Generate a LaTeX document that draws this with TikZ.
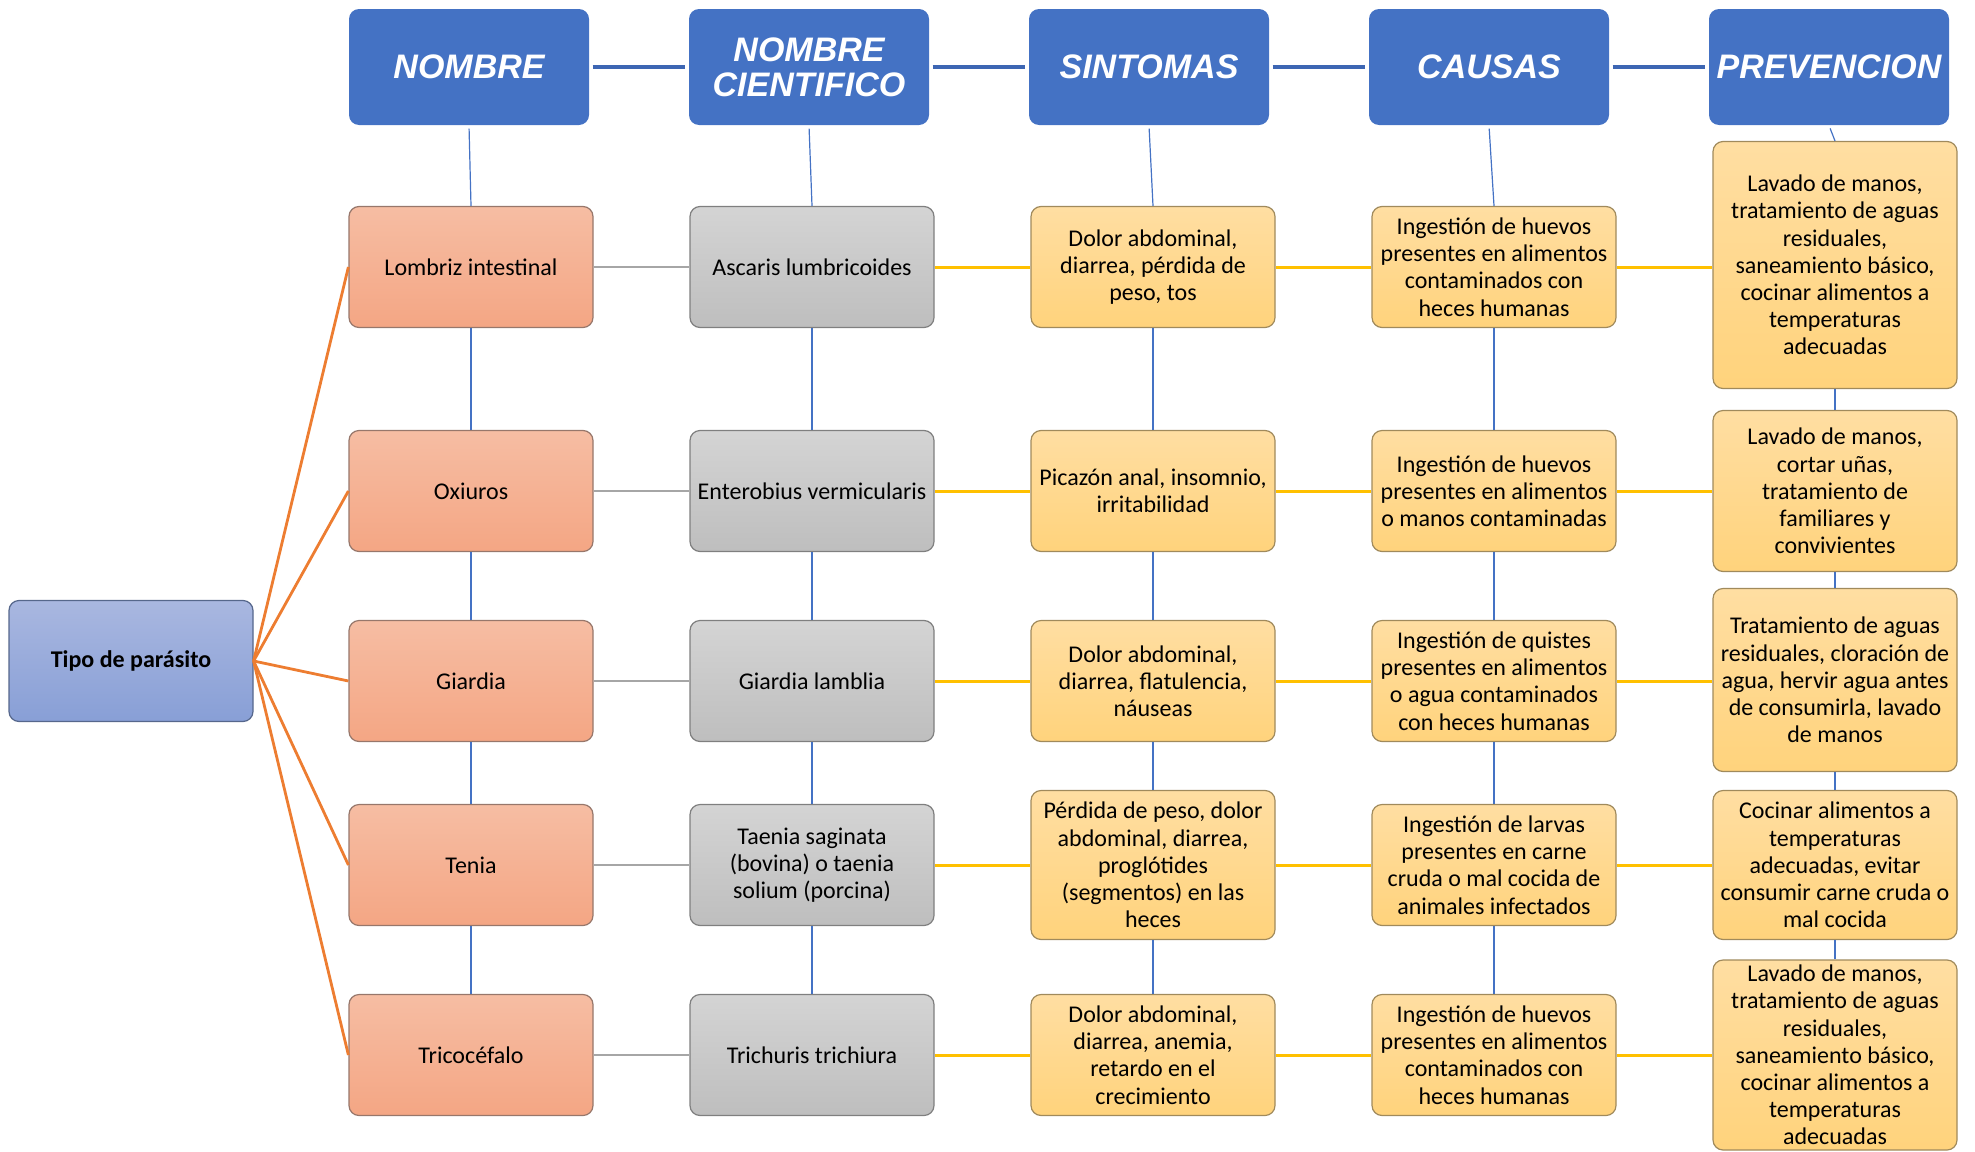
\documentclass[tikz,border=0pt]{standalone}
\usepackage{fontspec}
\setmainfont{Carlito}
\newfontfamily\hdrfont{Liberation Sans}

\definecolor{hdrblue}{HTML}{4472C4}
\definecolor{linkblue}{HTML}{3D66B3}
\definecolor{pinktop}{HTML}{F6BDA3}
\definecolor{pinkbot}{HTML}{F4A684}
\definecolor{pinkline}{HTML}{97776B}
\definecolor{graytop}{HTML}{D4D4D4}
\definecolor{graybot}{HTML}{BEBEBE}
\definecolor{grayline}{HTML}{7F7F7F}
\definecolor{yeltop}{HTML}{FFDEA2}
\definecolor{yelbot}{HTML}{FFD37C}
\definecolor{yelline}{HTML}{A08A5C}
\definecolor{roottop}{HTML}{A9B7E0}
\definecolor{rootbot}{HTML}{889FD6}
\definecolor{rootline}{HTML}{56678C}
\definecolor{linkgray}{HTML}{A6A6A6}
\definecolor{linkgold}{HTML}{FFC000}
\definecolor{linkorange}{HTML}{ED7D31}

\tikzset{
  boxbase/.style={rounded corners=5pt, align=center, inner sep=2pt, line width=0.6pt,
    minimum width=122pt, minimum height=60.5pt, font=\fontsize{12}{13.6}\selectfont},
  hdr/.style={boxbase, fill=hdrblue, minimum width=120pt, minimum height=58pt, text=white,
    font=\hdrfont\bfseries\itshape\fontsize{17}{17.6}\selectfont},
  root/.style={boxbase, draw=rootline, top color=roottop, bottom color=rootbot},
  nombre/.style={boxbase, draw=pinkline, top color=pinktop, bottom color=pinkbot},
  cientifico/.style={boxbase, draw=grayline, top color=graytop, bottom color=graybot},
  info/.style={boxbase, draw=yelline, top color=yeltop, bottom color=yelbot},
  hlink/.style={linkblue, line width=1.6pt, shorten <=1.5pt, shorten >=1.5pt},
  vlink/.style={hdrblue, line width=0.6pt},
  glink/.style={linkgray, line width=1.4pt},
  ylink/.style={linkgold, line width=1.5pt},
  olink/.style={linkorange, line width=1.4pt}
}

\begin{document}
\begin{tikzpicture}[x=0.5pt, y=-0.5pt]
	\useasboundingbox (0,0) rectangle (1975,1151);

	% encabezados
	\node[hdr] (H1) at (469,67) {NOMBRE};
	\node[hdr] (H2) at (809,67) {NOMBRE\\CIENTIFICO};
	\node[hdr] (H3) at (1149,67) {SINTOMAS};
	\node[hdr] (H4) at (1489,67) {CAUSAS};
	\node[hdr] (H5) at (1829,67) {PREVENCION};

	\node[root] (T) at (131,661) {\textbf{Tipo de parásito}};

	% nombre
	\node[nombre] (N1) at (471,267) {Lombriz intestinal};
	\node[nombre] (N2) at (471,491) {Oxiuros};
	\node[nombre] (N3) at (471,681) {Giardia};
	\node[nombre] (N4) at (471,865) {Tenia};
	\node[nombre] (N5) at (471,1055) {Tricocéfalo};

	% nombre cientifico
	\node[cientifico] (C1) at (812,267) {Ascaris lumbricoides};
	\node[cientifico] (C2) at (812,491) {Enterobius vermicularis};
	\node[cientifico] (C3) at (812,681) {Giardia lamblia};
	\node[cientifico] (C4) at (812,865) {Taenia saginata\\(bovina) o taenia\\solium (porcina)};
	\node[cientifico] (C5) at (812,1055) {Trichuris trichiura};

	% sintomas
	\node[info] (S1) at (1153,267) {Dolor abdominal,\\diarrea, pérdida de\\peso, tos};
	\node[info] (S2) at (1153,491) {Picazón anal, insomnio,\\irritabilidad};
	\node[info] (S3) at (1153,681) {Dolor abdominal,\\diarrea, flatulencia,\\náuseas};
	\node[info, minimum height=74.5pt] (S4) at (1153,865) {Pérdida de peso, dolor\\abdominal, diarrea,\\proglótides\\(segmentos) en las\\heces};
	\node[info] (S5) at (1153,1055) {Dolor abdominal,\\diarrea, anemia,\\retardo en el\\crecimiento};

	% causas
	\node[info] (K1) at (1494,267) {Ingestión de huevos\\presentes en alimentos\\contaminados con\\heces humanas};
	\node[info] (K2) at (1494,491) {Ingestión de huevos\\presentes en alimentos\\o manos contaminadas};
	\node[info] (K3) at (1494,681) {Ingestión de quistes\\presentes en alimentos\\o agua contaminados\\con heces humanas};
	\node[info] (K4) at (1494,865) {Ingestión de larvas\\presentes en carne\\cruda o mal cocida de\\animales infectados};
	\node[info] (K5) at (1494,1055) {Ingestión de huevos\\presentes en alimentos\\contaminados con\\heces humanas};

	% prevencion
	\node[info, minimum height=123.5pt] (P1) at (1835,265) {Lavado de manos,\\tratamiento de aguas\\residuales,\\saneamiento básico,\\cocinar alimentos a\\temperaturas\\adecuadas};
	\node[info, minimum height=80.5pt] (P2) at (1835,491) {Lavado de manos,\\cortar uñas,\\tratamiento de\\familiares y\\convivientes};
	\node[info, minimum height=91.5pt] (P3) at (1835,680) {Tratamiento de aguas\\residuales, cloración de\\agua, hervir agua antes\\de consumirla, lavado\\de manos};
	\node[info, minimum height=74.5pt] (P4) at (1835,865) {Cocinar alimentos a\\temperaturas\\adecuadas, evitar\\consumir carne cruda o\\mal cocida};
	\node[info, minimum height=95pt] (P5) at (1835,1055) {Lavado de manos,\\tratamiento de aguas\\residuales,\\saneamiento básico,\\cocinar alimentos a\\temperaturas\\adecuadas};

	% enlaces
	\draw[hlink] (H1) -- (H2);
	\draw[hlink] (H2) -- (H3);
	\draw[hlink] (H3) -- (H4);
	\draw[hlink] (H4) -- (H5);

	\foreach \h/\c in {1/N,2/C,3/S,4/K,5/P} {
		\draw[vlink, shorten <=1.5pt] (H\h.south) -- (\c1.north);
		\foreach \i/\j in {1/2,2/3,3/4,4/5} {
			\draw[vlink] (\c\i.south) -- (\c\j.north);
		}
	}

	\foreach \i in {1,...,5} {
		\draw[olink] (T.east) -- (N\i.west);
		\draw[glink] (N\i.east) -- (C\i.west);
		\draw[ylink] (C\i.east) -- (S\i.west);
		\draw[ylink] (S\i.east) -- (K\i.west);
		\draw[ylink] (K\i.east) -- (K\i.east -| P\i.west);
	}
\end{tikzpicture}
\end{document}
